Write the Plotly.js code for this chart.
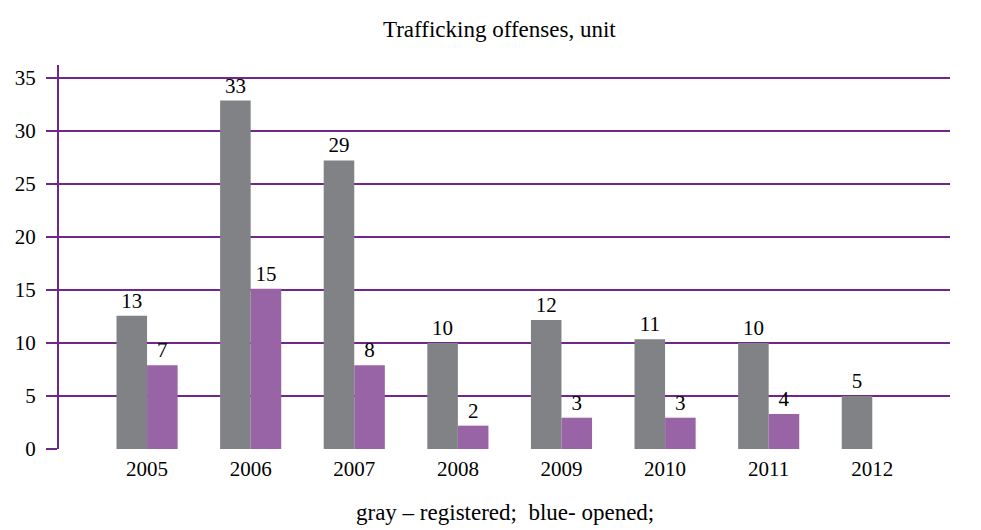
<!DOCTYPE html>
<html><head><meta charset="utf-8">
<script src="https://cdn.plot.ly/plotly-3.0.1.min.js"></script>
<style>body{margin:0;background:#fff}</style>
</head><body>
<div id="chart" style="width:981px;height:530px"></div>
<script>
var years = ['2005','2006','2007','2008','2009','2010','2011','2012'];
var registered = [12.55, 32.85, 27.2, 10.0, 12.15, 10.35, 10.0, 5.0];
var opened = [7.9, 15.1, 7.9, 2.2, 2.95, 2.95, 3.3, 0];
var registeredLabels = ['13','33','29','10','12','11','10','5'];
var openedLabels = ['7','15','8','2','3','3','4',''];
var yTicks = [0,5,10,15,20,25,30,35];

var font = "'Liberation Serif', 'Times New Roman', serif";
var traces = [
  {type:'bar', x:years, y:registered, text:registeredLabels, textposition:'outside',
   textfont:{family:font, size:21, color:'#000'}, marker:{color:'#818285'}, cliponaxis:false, hoverinfo:'none'},
  {type:'bar', x:years, y:opened, text:openedLabels, textposition:'outside',
   textfont:{family:font, size:21, color:'#000'}, marker:{color:'#9964a6'}, cliponaxis:false, hoverinfo:'none'}
];
var layout = {
  width:981, height:530,
  margin:{l:59, r:31, t:65, b:81},
  barmode:'group', bargap:0.41, bargroupgap:0,
  showlegend:false,
  paper_bgcolor:'#fff', plot_bgcolor:'#fff',
  font:{family:font, size:21, color:'#000'},
  title:{text:'Trafficking offenses, unit', x:0.509, xanchor:'center', y:0.945, yanchor:'middle', font:{family:font, size:23, color:'#000'}},
  xaxis:{type:'category', range:[-0.85, 7.75], showgrid:false, zeroline:false, showline:false, ticks:'',
         tickfont:{family:font, size:21}, ticklabelstandoff:5},
  yaxis:{range:[0, 36.2], tickvals:yTicks, ticktext:yTicks.map(String), showgrid:true, gridcolor:'#70268a', gridwidth:2,
         zeroline:false, showline:true, linecolor:'#70268a', linewidth:2, ticks:'outside', ticklen:11, tickcolor:'#70268a', tickwidth:2,
         tickfont:{family:font, size:21}, ticklabelstandoff:6},
  annotations:[{text:'gray – registered;  blue- opened;', xref:'paper', yref:'paper', x:0.5, y:-0.165, xanchor:'center', yanchor:'middle', showarrow:false,
                font:{family:font, size:23, color:'#000'}}]
};
Plotly.newPlot('chart', traces, layout, {displayModeBar:false, staticPlot:true});
</script>
</body></html>
